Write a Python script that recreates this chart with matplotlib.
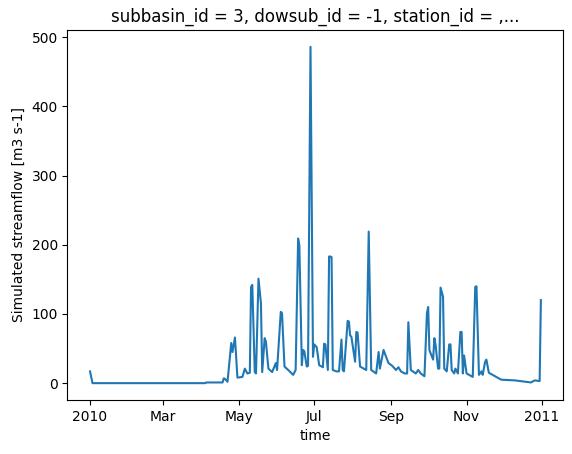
import numpy as np
import pandas as pd
import matplotlib
matplotlib.use("Agg")
import matplotlib.pyplot as plt
import matplotlib.dates as mdates

# day offsets from 2010-01-01 and simulated flow (m3/s)
day = [0, 2, 93, 94, 107, 108, 109, 111, 114, 115, 117, 119, 123, 125, 127, 129,
       130, 131, 133, 134, 136, 138, 139, 141, 142, 144, 147, 150, 151, 154, 155,
       157, 160, 164, 166, 168, 169, 171, 172, 173, 175, 176, 178, 180, 181, 183,
       185, 188, 189, 190, 192, 193, 194, 195, 196, 199, 201, 203, 204, 205, 208,
       209, 210, 211, 214, 215, 216, 218, 221, 223, 225, 227, 231, 233, 234, 237,
       239, 241, 244, 247, 249, 251, 254, 256, 257, 259, 263, 265, 267, 270, 272,
       273, 274, 275, 277, 278, 279, 281, 282, 283, 285, 286, 288, 290, 291, 292,
       294, 295, 297, 299, 300, 301, 302, 304, 306, 309, 311, 312, 314, 316, 317,
       319, 320, 322, 327, 332, 343, 356, 359, 363, 364]
flow = [17, 0, 0, 1, 1, 7, 6, 2, 58, 45, 66, 8, 9, 21, 14, 15,
        139, 142, 16, 14, 151, 115, 16, 65, 60, 21, 16, 29, 19, 103, 101,
        24, 19, 12, 19, 209, 199, 26, 48, 46, 24, 25, 486, 38, 56, 52,
        26, 23, 57, 56, 19, 183, 183, 182, 19, 17, 17, 63, 19, 17, 90,
        89, 69, 67, 31, 74, 73, 24, 21, 19, 219, 19, 14, 45, 21, 48,
        38, 29, 25, 19, 23, 17, 14, 14, 88, 19, 14, 19, 14, 10, 101,
        110, 48, 43, 34, 65, 55, 21, 21, 138, 125, 21, 17, 56, 56, 19,
        14, 21, 14, 74, 74, 14, 40, 14, 12, 9, 139, 140, 12, 17, 12,
        31, 34, 15, 10, 5, 4, 1, 4, 3, 120]

time = pd.Timestamp("2010-01-01") + pd.to_timedelta(day, unit="D")

fig = plt.figure(figsize=(5.72, 4.54), dpi=100)
ax = fig.add_axes([0.118, 0.119, 0.867, 0.815])
ax.plot(time, flow, color="tab:blue", linewidth=1.5)

loc = mdates.AutoDateLocator()
ax.xaxis.set_major_locator(loc)
ax.xaxis.set_major_formatter(mdates.ConciseDateFormatter(loc))

ax.set_title("subbasin_id = 3, dowsub_id = -1, station_id = ,...")
ax.set_xlabel("time")
ax.set_ylabel("Simulated streamflow [m3 s-1]")

fig.savefig("out.png", dpi=100)
